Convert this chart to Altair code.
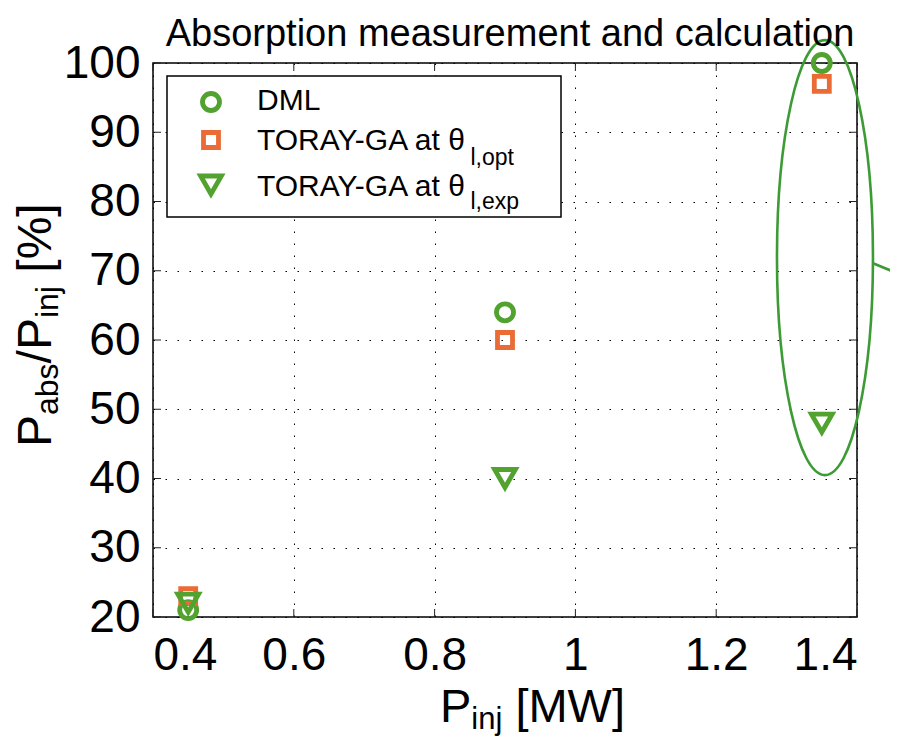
import altair as alt
import pandas as pd

# ---------------- data ----------------
x_inj = [0.45, 0.9, 1.35]
dml = [21, 64, 100]
toray_opt = [23, 60, 97]
toray_exp = [22, 40, 48]
x_ticks = [0.4, 0.6, 0.8, 1.0, 1.2, 1.4]
y_ticks = [20, 30, 40, 50, 60, 70, 80, 90, 100]
title_text = "Absorption measurement and calculation"
legend_main = ["DML", "TORAY-GA at θ", "TORAY-GA at θ"]
legend_sub = ["", "l,opt", "l,exp"]

# annotation (ellipse around the 1.35 MW points and its pointer line)
ell_center = {"x": [1.3545], "y": [71.9]}
pointer = {"x": [1.4227], "y": [71.08], "x2": [1.47], "y2": [69.1]}

# ---------------- style ----------------
W, H = 704, 554
FONT = "Liberation Sans"
GREEN = "#52a22f"
ORANGE = "#ea6b35"
ELL_GREEN = "#3d9b35"

CW = {'P': .667, 'a': .556, 'b': .556, 's': .5, '/': .278, 'i': .222, 'n': .556,
      'j': .222, ' ': .278, '[': .278, '%': .889, ']': .278, 'M': .833, 'W': .944,
      'T': .611, 'O': .778, 'R': .722, 'A': .667, 'Y': .667, '-': .333, 'G': .778,
      't': .278, 'θ': .5, 'l': .222, ',': .278, 'o': .556, 'p': .556, 'e': .556,
      'x': .5, 'D': .722, 'L': .556}


def tw(s, fs):
    return sum(CW.get(c, .556) for c in s) * fs


xs = alt.Scale(domain=[0.4, 1.4], nice=False, zero=False)
ys = alt.Scale(domain=[20, 100], nice=False, zero=False)
xaxis = alt.Axis(values=x_ticks, format="~g", title=None, labelPadding=16)
yaxis = alt.Axis(values=y_ticks, format="d", title=None, labelPadding=13)


def X(f):
    return alt.X(f, type="quantitative", scale=xs, axis=xaxis)


def Y(f):
    return alt.Y(f, type="quantitative", scale=ys, axis=yaxis)


one = pd.DataFrame({"d": [0]})


def txt(text, x, y, fs, angle=0, align="left", font=FONT):
    return alt.Chart(one).mark_text(
        text=text, fontSize=fs, font=font, angle=angle, align=align,
        baseline="alphabetic", color="black"
    ).encode(x=alt.value(x), y=alt.value(y))


layers = []

# inward ticks on all four sides
xt = pd.DataFrame({"v": x_ticks})
yt = pd.DataFrame({"v": y_ticks})
layers.append(alt.Chart(xt).mark_rule(color="#222", strokeWidth=1).encode(
    x=X("v"), y=alt.value(H), y2=alt.value(H - 8)))
layers.append(alt.Chart(xt).mark_rule(color="#222", strokeWidth=1).encode(
    x=X("v"), y=alt.value(0), y2=alt.value(8)))
layers.append(alt.Chart(yt).mark_rule(color="#222", strokeWidth=1).encode(
    y=Y("v"), x=alt.value(0), x2=alt.value(8)))
layers.append(alt.Chart(yt).mark_rule(color="#222", strokeWidth=1).encode(
    y=Y("v"), x=alt.value(W - 8), x2=alt.value(W)))

# data points
df_dml = pd.DataFrame({"x": x_inj, "y": dml})
df_opt = pd.DataFrame({"x": x_inj, "y": toray_opt})
df_exp = pd.DataFrame({"x": x_inj, "y": toray_exp})

CIRC = dict(shape="circle", size=290, filled=False, strokeWidth=4.8, color=GREEN, opacity=1)
SQ = dict(shape="square", size=225, filled=False, strokeWidth=4.8, color=ORANGE, opacity=1)
TRI = dict(shape="triangle-down", size=430, filled=False, strokeWidth=4.8, color=GREEN, opacity=1)

layers.append(alt.Chart(df_dml).mark_point(**CIRC).encode(x=X("x"), y=Y("y")))
layers.append(alt.Chart(df_opt).mark_point(**SQ).encode(x=X("x"), y=Y("y")))
layers.append(alt.Chart(df_exp).mark_point(**TRI).encode(x=X("x"), y=Y("y")))

# ellipse annotation (custom symbol path, cubic-bezier ellipse)
a, k = 0.2207, 0.5523
ell_path = (f"M0,-1C{k*a:.4f},-1,{a},{-k},{a},0C{a},{k},{k*a:.4f},1,0,1"
            f"C{-k*a:.4f},1,{-a},{k},{-a},0C{-a},{-k},{-k*a:.4f},-1,0,-1Z")
layers.append(alt.Chart(pd.DataFrame(ell_center)).mark_point(
    shape=ell_path, size=(2 * 217.5) ** 2, filled=False, strokeWidth=2.6,
    color=ELL_GREEN, opacity=1).encode(x=X("x"), y=Y("y")))
layers.append(alt.Chart(pd.DataFrame(pointer)).mark_rule(
    color=ELL_GREEN, strokeWidth=2.6).encode(x=X("x"), y=Y("y"), x2="x2", y2="y2"))

# legend box
layers.append(alt.Chart(one).mark_rect(fill="white", stroke="black", strokeWidth=1.5).encode(
    x=alt.value(14), x2=alt.value(408), y=alt.value(13), y2=alt.value(154)))
sym_styles = [CIRC, SQ, TRI]
sym_y = [39, 77, 122]
main_base = [47, 87, 133]
sub_base = [None, 102, 146]
LFS, LSFS = 30, 23
for i in range(3):
    layers.append(alt.Chart(one).mark_point(**sym_styles[i]).encode(
        x=alt.value(58), y=alt.value(sym_y[i])))
    layers.append(txt(legend_main[i], 104, main_base[i], LFS))
    if legend_sub[i]:
        layers.append(txt(legend_sub[i], 104 + tw(legend_main[i], LFS), sub_base[i], LSFS))

# chart title
layers.append(txt(title_text, 357, -17, 38, align="center"))

# x axis title: P_inj [MW]
MF, SF = 47, 31
x0, yb = 287, 659
layers.append(txt("P", x0, yb, MF))
x0 += tw("P", MF)
layers.append(txt("inj", x0, yb + 7, SF))
x0 += tw("inj", SF) + tw(" ", MF)
layers.append(txt("[MW]", x0, yb, MF))

# y axis title: P_abs/P_inj [%]  (rotated, reading upward)
YM, YS = 48, 32
y0, xb = 384, -102
for s, fs, sub in [("P", YM, False), ("abs", YS, True), ("/P", YM, False),
                   ("inj", YS, True), ("[%]", YM, False)]:
    layers.append(txt(s, xb + (7 if sub else 0), y0, fs, angle=270))
    y0 -= tw(s, fs)
    if s == "inj":
        y0 -= tw(" ", YM)

chart = alt.layer(*layers).properties(
    width=W, height=H,
    autosize=alt.AutoSizeParams(type="none"),
    padding={"left": 145, "top": 55, "right": 33, "bottom": 121},
).configure_view(
    stroke="black", strokeWidth=1.5
).configure_axis(
    labelFont=FONT, labelFontSize=46, labelColor="black",
    ticks=False, domain=False, grid=True, gridColor="black",
    gridDash=[1.5, 10.5], gridWidth=1, gridOpacity=1
)

chart.save("out.html", embed_options={"renderer": "svg", "actions": False})
